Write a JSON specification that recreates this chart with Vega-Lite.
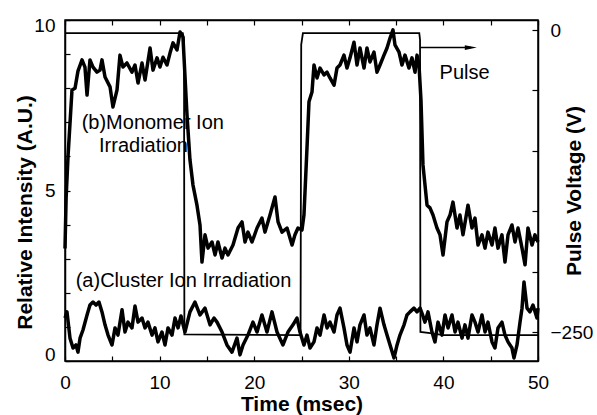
{
  "$schema": "https://vega.github.io/schema/vega-lite/v6.json",
  "width": 473,
  "height": 341,
  "autosize": "none",
  "padding": {"left": 65, "top": 20, "right": 59, "bottom": 54},
  "background": "white",
  "config": {
    "view": {"stroke": "black", "strokeWidth": 1.5},
    "font": "Liberation Sans",
    "axis": {
      "grid": false,
      "domainColor": "black",
      "domainWidth": 1.5,
      "tickColor": "black",
      "tickWidth": 1.2,
      "labelColor": "black",
      "titleColor": "black",
      "labelFont": "Liberation Sans",
      "titleFont": "Liberation Sans",
      "labelFontSize": 19,
      "titleFontSize": 21,
      "titleFontWeight": "bold",
      "labelOverlap": false,
      "labelBound": false
    }
  },
  "datasets": {
    "b": [
      {"t": 0.0, "v": 3.3}, {"t": 0.12, "v": 4.8}, {"t": 0.32, "v": 6.0}, {"t": 0.74, "v": 7.95}, {"t": 1.06, "v": 8.0},
      {"t": 1.37, "v": 8.5}, {"t": 1.8, "v": 8.83}, {"t": 2.11, "v": 8.62}, {"t": 2.33, "v": 7.8}, {"t": 2.64, "v": 8.83},
      {"t": 2.96, "v": 8.62}, {"t": 3.38, "v": 8.47}, {"t": 3.7, "v": 8.53}, {"t": 3.91, "v": 8.83}, {"t": 4.23, "v": 8.33},
      {"t": 4.76, "v": 8.04}, {"t": 5.07, "v": 7.45}, {"t": 5.5, "v": 7.95}, {"t": 5.81, "v": 8.97}, {"t": 6.13, "v": 8.62},
      {"t": 6.55, "v": 8.74}, {"t": 7.08, "v": 8.47}, {"t": 7.4, "v": 8.68}, {"t": 7.72, "v": 8.15}, {"t": 8.14, "v": 8.74},
      {"t": 8.46, "v": 8.24}, {"t": 8.99, "v": 9.18}, {"t": 9.3, "v": 8.53}, {"t": 9.73, "v": 8.89}, {"t": 10.04, "v": 8.62},
      {"t": 10.36, "v": 8.91}, {"t": 10.78, "v": 8.68}, {"t": 11.1, "v": 9.03}, {"t": 11.42, "v": 9.33}, {"t": 11.84, "v": 9.12},
      {"t": 12.16, "v": 9.65}, {"t": 12.47, "v": 9.5}, {"t": 12.9, "v": 7.2}, {"t": 13.21, "v": 5.9}, {"t": 13.53, "v": 5.16},
      {"t": 13.95, "v": 4.57}, {"t": 14.27, "v": 3.99}, {"t": 14.48, "v": 2.9}, {"t": 14.8, "v": 3.7}, {"t": 15.12, "v": 3.31},
      {"t": 15.54, "v": 3.49}, {"t": 15.86, "v": 3.11}, {"t": 16.17, "v": 3.49}, {"t": 16.6, "v": 3.02}, {"t": 16.91, "v": 3.31},
      {"t": 17.23, "v": 3.11}, {"t": 17.76, "v": 3.4}, {"t": 18.29, "v": 3.9}, {"t": 18.71, "v": 4.08}, {"t": 19.03, "v": 3.49},
      {"t": 19.34, "v": 3.78}, {"t": 19.77, "v": 3.49}, {"t": 20.3, "v": 3.9}, {"t": 20.82, "v": 4.19}, {"t": 21.14, "v": 3.78},
      {"t": 21.67, "v": 4.28}, {"t": 22.2, "v": 4.81}, {"t": 22.52, "v": 4.08}, {"t": 22.94, "v": 3.78}, {"t": 23.47, "v": 3.9},
      {"t": 24.0, "v": 3.4}, {"t": 24.31, "v": 3.7}, {"t": 24.63, "v": 3.9}, {"t": 25.05, "v": 3.84}, {"t": 25.26, "v": 4.28},
      {"t": 25.58, "v": 6.25}, {"t": 25.79, "v": 7.6}, {"t": 26.11, "v": 7.89}, {"t": 26.32, "v": 8.68}, {"t": 26.64, "v": 8.3},
      {"t": 26.96, "v": 8.59}, {"t": 27.38, "v": 8.39}, {"t": 27.7, "v": 8.47}, {"t": 28.01, "v": 8.3}, {"t": 28.44, "v": 8.09},
      {"t": 28.75, "v": 8.59}, {"t": 29.07, "v": 8.68}, {"t": 29.49, "v": 8.97}, {"t": 29.81, "v": 8.59}, {"t": 30.13, "v": 8.89},
      {"t": 30.55, "v": 9.35}, {"t": 30.87, "v": 8.68}, {"t": 31.18, "v": 9.18}, {"t": 31.61, "v": 8.59}, {"t": 31.92, "v": 9.18},
      {"t": 32.24, "v": 8.77}, {"t": 32.66, "v": 9.06}, {"t": 32.98, "v": 8.47}, {"t": 33.3, "v": 8.68}, {"t": 33.72, "v": 8.97},
      {"t": 34.04, "v": 9.18}, {"t": 34.36, "v": 9.47}, {"t": 34.67, "v": 9.71}, {"t": 34.88, "v": 9.27}, {"t": 35.31, "v": 9.06},
      {"t": 35.62, "v": 8.68}, {"t": 35.94, "v": 8.97}, {"t": 36.36, "v": 8.59}, {"t": 36.68, "v": 8.89}, {"t": 37.0, "v": 8.47},
      {"t": 37.21, "v": 8.97}, {"t": 37.42, "v": 8.68}, {"t": 37.63, "v": 7.65}, {"t": 37.84, "v": 5.75}, {"t": 38.27, "v": 4.57},
      {"t": 38.58, "v": 4.49}, {"t": 38.9, "v": 4.28}, {"t": 39.32, "v": 3.9}, {"t": 39.64, "v": 3.7}, {"t": 39.96, "v": 3.11},
      {"t": 40.38, "v": 4.08}, {"t": 40.7, "v": 4.28}, {"t": 41.01, "v": 4.66}, {"t": 41.44, "v": 3.9}, {"t": 41.75, "v": 4.28},
      {"t": 42.07, "v": 3.7}, {"t": 42.6, "v": 4.57}, {"t": 43.02, "v": 3.9}, {"t": 43.34, "v": 4.19}, {"t": 43.66, "v": 3.4},
      {"t": 44.08, "v": 3.7}, {"t": 44.4, "v": 3.31}, {"t": 44.71, "v": 3.78}, {"t": 45.14, "v": 3.4}, {"t": 45.45, "v": 3.9},
      {"t": 45.77, "v": 3.31}, {"t": 46.19, "v": 3.7}, {"t": 46.51, "v": 2.9}, {"t": 46.83, "v": 3.7}, {"t": 47.25, "v": 3.99},
      {"t": 47.57, "v": 3.49}, {"t": 47.89, "v": 3.9}, {"t": 48.31, "v": 3.31}, {"t": 48.63, "v": 2.82}, {"t": 48.94, "v": 3.9},
      {"t": 49.37, "v": 3.4}, {"t": 49.68, "v": 3.7}, {"t": 50.0, "v": 3.49}
    ],
    "a": [
      {"t": 0.0, "v": 1.26}, {"t": 0.21, "v": 1.44}, {"t": 0.53, "v": 0.67}, {"t": 0.85, "v": 0.38}, {"t": 1.16, "v": 0.47},
      {"t": 1.37, "v": 0.26}, {"t": 1.59, "v": 0.67}, {"t": 1.9, "v": 0.91}, {"t": 2.33, "v": 1.35}, {"t": 2.64, "v": 1.64},
      {"t": 2.96, "v": 1.73}, {"t": 3.28, "v": 1.64}, {"t": 3.59, "v": 1.73}, {"t": 3.91, "v": 1.44}, {"t": 4.23, "v": 1.06},
      {"t": 4.55, "v": 0.76}, {"t": 4.97, "v": 0.47}, {"t": 5.29, "v": 0.97}, {"t": 5.6, "v": 0.76}, {"t": 6.03, "v": 1.5},
      {"t": 6.34, "v": 0.85}, {"t": 6.66, "v": 1.14}, {"t": 7.08, "v": 0.97}, {"t": 7.4, "v": 1.61}, {"t": 7.72, "v": 1.14},
      {"t": 8.14, "v": 1.26}, {"t": 8.46, "v": 0.97}, {"t": 8.77, "v": 1.14}, {"t": 9.2, "v": 0.76}, {"t": 9.51, "v": 0.97},
      {"t": 9.83, "v": 0.56}, {"t": 10.25, "v": 0.85}, {"t": 10.57, "v": 0.47}, {"t": 10.89, "v": 0.97}, {"t": 11.31, "v": 0.76},
      {"t": 11.63, "v": 1.26}, {"t": 11.95, "v": 0.97}, {"t": 12.26, "v": 1.32}, {"t": 12.68, "v": 0.85}, {"t": 13.21, "v": 1.44},
      {"t": 13.74, "v": 1.73}, {"t": 14.27, "v": 1.35}, {"t": 14.8, "v": 1.55}, {"t": 15.33, "v": 1.06}, {"t": 15.75, "v": 1.26},
      {"t": 16.07, "v": 1.14}, {"t": 16.6, "v": 0.85}, {"t": 17.12, "v": 0.47}, {"t": 17.65, "v": 0.26}, {"t": 18.18, "v": 0.67},
      {"t": 18.5, "v": 0.18}, {"t": 18.82, "v": 0.47}, {"t": 19.34, "v": 0.76}, {"t": 19.87, "v": 1.14}, {"t": 20.3, "v": 0.85},
      {"t": 20.82, "v": 1.35}, {"t": 21.35, "v": 0.85}, {"t": 21.88, "v": 1.44}, {"t": 22.41, "v": 0.85}, {"t": 23.04, "v": 0.47},
      {"t": 23.57, "v": 0.85}, {"t": 24.1, "v": 1.06}, {"t": 24.52, "v": 1.26}, {"t": 24.84, "v": 0.85}, {"t": 25.26, "v": 0.47},
      {"t": 25.58, "v": 0.76}, {"t": 25.9, "v": 0.38}, {"t": 26.32, "v": 0.56}, {"t": 26.64, "v": 0.97}, {"t": 26.96, "v": 0.76},
      {"t": 27.38, "v": 1.35}, {"t": 27.7, "v": 0.97}, {"t": 28.01, "v": 1.14}, {"t": 28.44, "v": 0.85}, {"t": 28.75, "v": 1.35},
      {"t": 29.07, "v": 1.55}, {"t": 29.49, "v": 0.97}, {"t": 29.81, "v": 0.47}, {"t": 30.13, "v": 0.26}, {"t": 30.55, "v": 0.97},
      {"t": 30.87, "v": 0.56}, {"t": 31.18, "v": 1.06}, {"t": 31.61, "v": 1.35}, {"t": 31.92, "v": 0.76}, {"t": 32.24, "v": 0.97},
      {"t": 32.66, "v": 0.47}, {"t": 32.98, "v": 1.06}, {"t": 33.3, "v": 1.55}, {"t": 33.72, "v": 1.06}, {"t": 34.04, "v": 0.76},
      {"t": 34.36, "v": 0.47}, {"t": 34.78, "v": 0.09}, {"t": 35.1, "v": 0.47}, {"t": 35.41, "v": 0.76}, {"t": 35.84, "v": 1.06},
      {"t": 36.15, "v": 1.35}, {"t": 36.47, "v": 1.44}, {"t": 36.89, "v": 1.55}, {"t": 37.21, "v": 1.44}, {"t": 37.53, "v": 1.55},
      {"t": 37.8, "v": 1.35}, {"t": 38.05, "v": 1.14}, {"t": 38.37, "v": 1.44}, {"t": 38.79, "v": 0.85}, {"t": 39.11, "v": 0.56},
      {"t": 39.43, "v": 1.14}, {"t": 39.85, "v": 0.76}, {"t": 40.17, "v": 1.35}, {"t": 40.49, "v": 0.97}, {"t": 40.91, "v": 1.35},
      {"t": 41.23, "v": 0.85}, {"t": 41.54, "v": 1.14}, {"t": 41.97, "v": 0.67}, {"t": 42.28, "v": 1.06}, {"t": 42.6, "v": 0.67},
      {"t": 43.02, "v": 1.35}, {"t": 43.34, "v": 1.14}, {"t": 43.66, "v": 0.85}, {"t": 44.08, "v": 1.35}, {"t": 44.4, "v": 0.85},
      {"t": 44.71, "v": 1.14}, {"t": 45.14, "v": 0.56}, {"t": 45.45, "v": 0.38}, {"t": 45.77, "v": 0.97}, {"t": 46.19, "v": 1.14},
      {"t": 46.51, "v": 0.76}, {"t": 46.83, "v": 0.56}, {"t": 47.25, "v": 0.38}, {"t": 47.46, "v": 0.09}, {"t": 47.78, "v": 0.47},
      {"t": 48.1, "v": 1.14}, {"t": 48.31, "v": 1.55}, {"t": 48.52, "v": 2.32}, {"t": 48.84, "v": 1.55}, {"t": 49.15, "v": 1.44},
      {"t": 49.47, "v": 1.64}, {"t": 49.89, "v": 1.26}, {"t": 50.0, "v": 1.55}
    ],
    "pulse": [
      {"t": 0.0, "v": -2.5}, {"t": 12.45, "v": -2.5}, {"t": 12.58, "v": -8}, {"t": 12.62, "v": -252}, {"t": 24.9, "v": -252.5},
      {"t": 24.97, "v": -12}, {"t": 25.15, "v": -2.5}, {"t": 37.45, "v": -2.5}, {"t": 37.53, "v": -8}, {"t": 37.57, "v": -250},
      {"t": 38.6, "v": -251}, {"t": 40.0, "v": -252.5}, {"t": 50.0, "v": -252.5}
    ],
    "labels": [
      {"t": 1.76, "v": 6.8, "text": "(b)Monomer Ion"},
      {"t": 3.6, "v": 6.13, "text": "Irradiation"},
      {"t": 1.13, "v": 2.17, "text": "(a)Cluster Ion Irradiation"},
      {"t": 39.6, "v": 8.27, "text": "Pulse"}
    ],
    "arrow": [
      {"t": 37.55, "v": 9.19},
      {"t": 42.9, "v": 9.19}
    ],
    "head": [
      {"t": 42.9, "v": 9.19}
    ]
  },
  "layer": [
    {
      "data": {"name": "b"},
      "mark": {"type": "line", "color": "black", "strokeWidth": 3.5, "strokeJoin": "round"},
      "encoding": {
        "x": {
          "field": "t", "type": "quantitative",
          "scale": {"domain": [0, 50], "nice": false, "zero": false},
          "axis": {
            "orient": "bottom",
            "title": "Time (msec)",
            "values": [0, 5, 10, 15, 20, 25, 30, 35, 40, 45, 50],
            "labelExpr": "datum.value % 10 === 0 ? datum.label : ''",
            "labelFlush": false,
            "tickSize": -5,
            "labelPadding": 17,
            "titleBaseline": "alphabetic",
            "titleX": 236.5,
            "titleY": 49
          }
        },
        "y": {
          "field": "v", "type": "quantitative",
          "scale": {"domain": [0, 10], "nice": false, "zero": false},
          "axis": {
            "orient": "left",
            "title": "Relative Intensity (A.U.)",
            "values": [0, 1, 2, 3, 4, 5, 6, 7, 8, 9, 10],
            "labelExpr": "datum.value % 5 === 0 ? datum.label : ''",
            "labelFlush": true,
            "labelFlushOffset": 3.5,
            "tickSize": -5,
            "labelPadding": 15,
            "titleAngle": 270,
            "titleBaseline": "alphabetic",
            "titleAlign": "center",
            "titleX": -34,
            "titleY": 192
          }
        }
      }
    },
    {
      "data": {"name": "a"},
      "mark": {"type": "line", "color": "black", "strokeWidth": 3.5, "strokeJoin": "round"},
      "encoding": {
        "x": {
          "field": "t", "type": "quantitative",
          "scale": {"domain": [0, 50], "nice": false, "zero": false},
          "axis": {
            "orient": "top",
            "title": null,
            "labels": false,
            "values": [0, 5, 10, 15, 20, 25, 30, 35, 40, 45, 50],
            "tickSize": -5
          }
        },
        "y": {"field": "v", "type": "quantitative", "scale": {"domain": [0, 10], "nice": false, "zero": false}, "axis": null}
      }
    },
    {
      "data": {"name": "labels"},
      "mark": {"type": "text", "align": "left", "baseline": "alphabetic", "fontSize": 20, "font": "Liberation Sans", "color": "black"},
      "encoding": {
        "x": {"field": "t", "type": "quantitative", "scale": {"domain": [0, 50], "nice": false, "zero": false}, "axis": null},
        "y": {"field": "v", "type": "quantitative", "scale": {"domain": [0, 10], "nice": false, "zero": false}, "axis": null},
        "text": {"field": "text", "type": "nominal"}
      }
    },
    {
      "data": {"name": "arrow"},
      "mark": {"type": "line", "color": "black", "strokeWidth": 1.5},
      "encoding": {
        "x": {"field": "t", "type": "quantitative", "scale": {"domain": [0, 50], "nice": false, "zero": false}, "axis": null},
        "y": {"field": "v", "type": "quantitative", "scale": {"domain": [0, 10], "nice": false, "zero": false}, "axis": null}
      }
    },
    {
      "data": {"name": "head"},
      "mark": {"type": "point", "shape": "M1,0L-1,-0.4L-1,0.4Z", "filled": true, "size": 144, "color": "black", "opacity": 1},
      "encoding": {
        "x": {"field": "t", "type": "quantitative", "scale": {"domain": [0, 50], "nice": false, "zero": false}, "axis": null},
        "y": {"field": "v", "type": "quantitative", "scale": {"domain": [0, 10], "nice": false, "zero": false}, "axis": null}
      }
    },
    {
      "data": {"name": "pulse"},
      "mark": {"type": "line", "color": "black", "strokeWidth": 1.8},
      "encoding": {
        "x": {"field": "t", "type": "quantitative", "scale": {"domain": [0, 50], "nice": false, "zero": false}, "axis": null},
        "y": {
          "field": "v", "type": "quantitative",
          "scale": {"domain": [-274, 8.3], "nice": false, "zero": false},
          "axis": {
            "orient": "right",
            "title": "Pulse Voltage (V)",
            "values": [0, -50, -100, -150, -200, -250],
            "labelExpr": "datum.value === 0 || datum.value === -250 ? datum.label : ''",
            "labelFlush": false,
            "tickSize": -6,
            "labelPadding": 18,
            "titleAngle": 270,
            "titleBaseline": "alphabetic",
            "titleAlign": "center",
            "titleX": 42,
            "titleY": 170.5
          }
        }
      }
    }
  ],
  "resolve": {"scale": {"y": "independent"}}
}
